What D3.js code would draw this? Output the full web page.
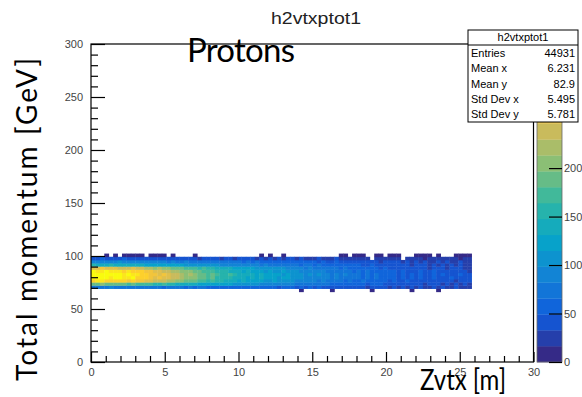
<!DOCTYPE html>
<html>
<head>
<meta charset="utf-8">
<script src="https://cdn.jsdelivr.net/npm/d3@7"></script>
<style>
  body { margin: 0; background: #fff; }
  svg { display: block; }
  .axis text { font-family: "Liberation Sans", Arial, sans-serif; font-size: 11px; fill: #444; }
  .axis line { stroke: #000; stroke-width: 1.2; }
  .stats text { font-family: "Liberation Sans", Arial, sans-serif; font-size: 11px; fill: #000; }
</style>
</head>
<body>
<div id="chart"></div>
<script>
// histogram h2vtxptot1 : Zvtx [m] vs total momentum [GeV]
const xBinWidth = 0.3;   // m
const yBinWidth = 3;     // GeV
const zMax = 328;        // top of colour scale
const nContours = 20;

// low edge of each y row (GeV), bottom to top
const yRowLows = [66, 69, 72, 75, 78, 81, 84, 87, 90, 93, 96, 99];

// colour band per x bin (0.3 m each, from Zvtx = 0), '.' = empty, 0-9 then a-j = band 0..19
const rowBands = [
  ["..........", "..........", "..........", "..........", ".......0..", "....0.....", "...0......", "..0.....0.", "......"],
  ["4444544444", "4444443444", "4343443333", "3333333333", "3323332323", "2322222222", "2212222121", "2121211212", "112111"],
  ["bbcbbbbbab", "aaaa99a998", "8888777777", "7766666655", "5555554444", "4444333333", "3323332222", "2222212221", "212121"],
  ["hiihhhhhgh", "ggffeeeddc", "cbbbaa9a99", "8887877776", "6766665555", "5454444343", "3433333232", "2322222222", "221222"],
  ["jjjjijjiij", "hhhgfgffee", "dcccbbab99", "9988878787", "7767766655", "5555454444", "4343433332", "3232322322", "232222"],
  ["jjjjjjjiji", "ihhggfgfee", "dcdcbbaba9", "9a98888787", "7776766656", "5655454544", "4343433332", "3232322323", "222322"],
  ["jiijiiihih", "hhggffeedd", "cccbbaaa99", "9888787776", "7667666555", "5554444443", "4343333332", "3222322322", "222221"],
  ["ffgfffeeef", "eeddcdccbb", "baaa9a9988", "8877777666", "6666555545", "4444443433", "3333323222", "2222221222", "122211"],
  ["9888988888", "8877777777", "7666666665", "5555555545", "4444444344", "3433333333", "3223222222", "2212221212", "121211"],
  ["5555556555", "5555555454", "4544444444", "4444343433", "3333333333", "3232232222", "2222212222", "1212121121", "211211"],
  ["2232222322", "2222222222", "2222122221", "2212222121", "2121221211", "1211121111", "111.111111", ".111101111", "111011"],
  ["...0.0.000", "00.0000.0.", "...0......", "........0.", "0..0......", "......00.0", "00..00.000", "...0000.0.", "..0000"]
];

const xTicks = [0, 5, 10, 15, 20, 25, 30];
const yTicks = [0, 50, 100, 150, 200, 250, 300];
const zTicks = [0, 50, 100, 150, 200];   // 250, 300 sit under the stats box

const statLabels = ["Entries", "Mean x", "Mean y", "Std Dev x", "Std Dev y"];
const statValues = ["44931", "6.231", "82.9", "5.495", "5.781"];

// ROOT kBird palette
const birdStops = [0.0, 0.125, 0.25, 0.375, 0.5, 0.625, 0.75, 0.875, 1.0];
const birdR = [0.2082, 0.0592, 0.0780, 0.0232, 0.1802, 0.5301, 0.8186, 0.9956, 0.9764];
const birdG = [0.1664, 0.3599, 0.5041, 0.6419, 0.7178, 0.7492, 0.7328, 0.7862, 0.9832];
const birdB = [0.5293, 0.8684, 0.8385, 0.7914, 0.6425, 0.4662, 0.3499, 0.1968, 0.0539];

const W = 582, H = 397;
const frame = {left: 91, right: 533.5, top: 44, bottom: 362};

const svg = d3.select('#chart').append('svg')
  .attr('width', W)
  .attr('height', H);

const x = d3.scaleLinear().domain([0, 30]).range([frame.left, frame.right]);
const y = d3.scaleLinear().domain([0, 300]).range([frame.bottom, frame.top]);
const z = d3.scaleLinear().domain([0, zMax]).range([frame.bottom, frame.top]);

const bird = d3.scaleLinear()
  .domain(birdStops)
  .range(birdStops.map((s, i) => d3.rgb(birdR[i] * 255, birdG[i] * 255, birdB[i] * 255)))
  .interpolate(d3.interpolateRgb);
const bandColor = b => bird(b / (nContours - 1));
const bandOf = v => Math.min(nContours - 1, Math.floor(v / zMax * nContours));

// cells: band char -> approximate count (centre of band)
const cells = [];
rowBands.forEach((chunks, r) => {
  chunks.join('').split('').forEach((c, i) => {
    if (c === '.') return;
    const band = parseInt(c, 20);
    cells.push({x0: i * xBinWidth, y0: yRowLows[r], count: (band + 0.5) * zMax / nContours});
  });
});

svg.append('g').selectAll('rect')
  .data(cells)
  .enter().append('rect')
    .attr('x', d => x(d.x0))
    .attr('y', d => y(d.y0 + yBinWidth) - 0.3)
    .attr('width', d => x(d.x0 + xBinWidth) - x(d.x0) + 0.4)
    .attr('height', d => y(d.y0) - y(d.y0 + yBinWidth) + 0.4)
    .style('fill', d => bandColor(bandOf(d.count)));

// frame
svg.append('rect')
  .attr('x', frame.left).attr('y', frame.top)
  .attr('width', frame.right - frame.left).attr('height', frame.bottom - frame.top)
  .style('fill', 'none').style('stroke', '#000').style('stroke-width', 1.2);

// y axis, ticks inward
const yMinor = d3.range(0, 301, 10).filter(v => v % 50 !== 0);
svg.append('g')
  .attr('class', 'axis')
  .attr('transform', 'translate(' + frame.left + ',0)')
  .call(d3.axisLeft(y).tickValues(yMinor).tickSize(-7).tickFormat(''))
  .call(g => g.select('.domain').remove());
svg.append('g')
  .attr('class', 'axis')
  .attr('transform', 'translate(' + frame.left + ',0)')
  .call(d3.axisLeft(y).tickValues(yTicks).tickSize(-14).tickPadding(8))
  .call(g => g.select('.domain').remove());

// x axis
const xMinor = d3.range(0, 31, 1).filter(v => v % 5 !== 0);
svg.append('g')
  .attr('class', 'axis')
  .attr('transform', 'translate(0,' + frame.bottom + ')')
  .call(d3.axisBottom(x).tickValues(xMinor).tickSize(-6).tickFormat(''))
  .call(g => g.select('.domain').remove());
svg.append('g')
  .attr('class', 'axis')
  .attr('transform', 'translate(0,' + frame.bottom + ')')
  .call(d3.axisBottom(x).tickValues(xTicks).tickSize(-10).tickPadding(6))
  .call(g => g.select('.domain').remove());

// colour palette
const pal = {x: 537, w: 25};
svg.append('g').selectAll('rect')
  .data(d3.range(nContours))
  .enter().append('rect')
    .attr('x', pal.x)
    .attr('y', b => z((b + 1) * zMax / nContours))
    .attr('width', pal.w)
    .attr('height', b => z(b * zMax / nContours) - z((b + 1) * zMax / nContours) + 0.3)
    .style('fill', b => bandColor(b));
svg.append('rect')
  .attr('x', pal.x).attr('y', frame.top)
  .attr('width', pal.w).attr('height', frame.bottom - frame.top)
  .style('fill', 'none').style('stroke', '#666').style('stroke-width', 0.8);
svg.append('g')
  .attr('class', 'axis')
  .attr('transform', 'translate(' + (pal.x + pal.w) + ',0)')
  .call(d3.axisRight(z).tickValues(zTicks).tickSize(-13).tickPadding(2))
  .call(g => g.select('.domain').remove());

// stats box
const st = {x: 468, y: 30, w: 110, h: 92, head: 15};
const stats = svg.append('g').attr('class', 'stats');
stats.append('rect')
  .attr('x', st.x).attr('y', st.y).attr('width', st.w).attr('height', st.h)
  .style('fill', '#fff').style('stroke', '#000').style('stroke-width', 1);
stats.append('line')
  .attr('x1', st.x).attr('x2', st.x + st.w)
  .attr('y1', st.y + st.head).attr('y2', st.y + st.head)
  .style('stroke', '#000');
stats.append('text')
  .attr('x', st.x + st.w / 2).attr('y', st.y + 11)
  .attr('text-anchor', 'middle')
  .text('h2vtxptot1');
const rowH = (st.h - st.head) / statLabels.length;
statLabels.forEach((lab, i) => {
  const yy = st.y + st.head + rowH * (i + 0.5) + 4;
  stats.append('text').attr('x', st.x + 3).attr('y', yy).text(lab);
  stats.append('text').attr('x', st.x + st.w - 3).attr('y', yy)
    .attr('text-anchor', 'end').text(statValues[i]);
});

// title
svg.append('text')
  .attr('x', 316).attr('y', 24)
  .attr('text-anchor', 'middle')
  .attr('textLength', 90)
  .attr('lengthAdjust', 'spacingAndGlyphs')
  .style('font-family', '"Liberation Sans", Arial, sans-serif')
  .style('font-size', '16px')
  .style('fill', '#222')
  .text('h2vtxptot1');

// annotations
svg.append('text')
  .attr('x', 187).attr('y', 62)
  .attr('textLength', 108)
  .style('font-family', 'Lato, "Open Sans", sans-serif')
  .style('font-size', '33px')
  .text('Protons');

svg.append('text')
  .attr('transform', 'translate(37,381) rotate(-90)')
  .attr('textLength', 323)
  .style('font-family', 'Lato, "Open Sans", sans-serif')
  .style('font-size', '28px')
  .text('Total momentum [GeV]');

svg.append('text')
  .attr('x', 420).attr('y', 390)
  .attr('textLength', 86)
  .attr('lengthAdjust', 'spacingAndGlyphs')
  .style('font-family', 'Lato, "Open Sans", sans-serif')
  .style('font-size', '28px')
  .text('Zvtx [m]');
</script>
</body>
</html>
